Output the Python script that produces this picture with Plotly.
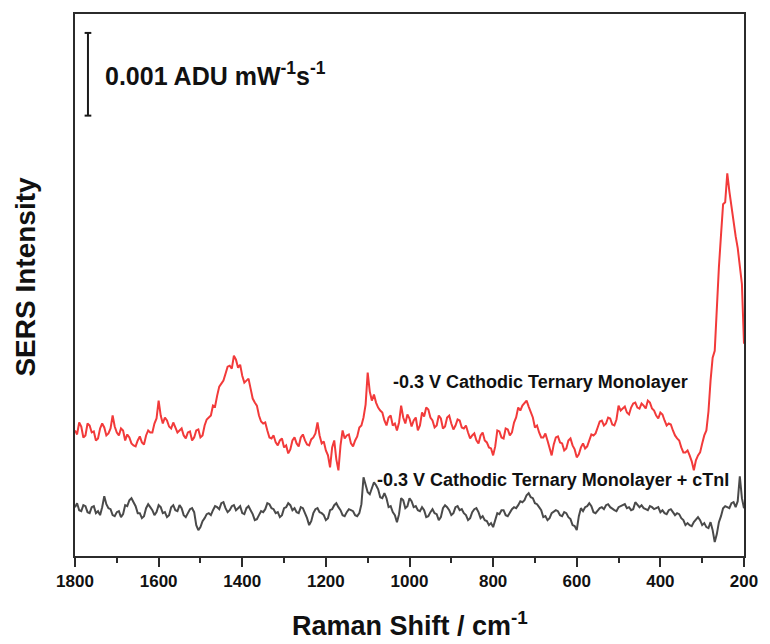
import numpy as np
import plotly.graph_objects as go

# Raman shift grid (cm^-1), 1800 -> 200 in 5 cm^-1 steps
shift = list(range(1800, 199, -5))

# SERS intensity in detector counts (83 counts = 0.001 ADU mW^-1 s^-1)
monolayer = [
    126, 122, 134, 130, 119, 121, 133, 131, 124, 125,
    116, 118, 128, 133, 129, 121, 123, 128, 141, 130,
    124, 121, 128, 126, 116, 122, 119, 113, 111, 110,
    116, 120, 114, 112, 121, 126, 124, 124, 133, 138,
    156, 141, 133, 139, 136, 130, 128, 134, 129, 124,
    126, 128, 121, 118, 124, 125, 116, 119, 126, 127,
    119, 121, 131, 137, 139, 141, 151, 150, 161, 170,
    173, 176, 183, 190, 191, 188, 201, 197, 189, 192,
    181, 174, 176, 178, 168, 158, 154, 151, 141, 135,
    133, 134, 126, 119, 118, 121, 114, 111, 116, 118,
    109, 111, 103, 107, 116, 119, 113, 110, 119, 122,
    116, 112, 111, 117, 119, 123, 134, 121, 113, 115,
    106, 101, 89, 109, 116, 97, 86, 111, 126, 118,
    121, 122, 113, 110, 116, 120, 129, 131, 139, 152,
    184, 165, 156, 162, 154, 149, 146, 144, 136, 131,
    139, 141, 131, 133, 126, 134, 151, 139, 133, 142,
    138, 130, 136, 139, 126, 131, 144, 140, 149, 147,
    139, 136, 129, 131, 141, 138, 128, 130, 139, 141,
    133, 127, 131, 137, 136, 129, 128, 131, 124, 118,
    121, 123, 116, 113, 121, 124, 116, 114, 109, 108,
    101, 110, 126, 125, 119, 118, 128, 127, 121, 124,
    134, 139, 149, 146, 151, 153, 156, 150, 144, 139,
    129, 131, 124, 119, 119, 123, 116, 109, 101, 112,
    119, 120, 114, 113, 106, 108, 116, 118, 111, 107,
    99, 102, 109, 113, 108, 110, 116, 122, 121, 123,
    129, 135, 136, 131, 133, 139, 138, 132, 131, 137,
    151, 146, 148, 150, 144, 142, 149, 153, 154, 149,
    148, 153, 151, 148, 156, 154, 148, 146, 141, 138,
    144, 142, 136, 131, 133, 132, 126, 121, 118, 116,
    109, 104, 104, 106, 101, 95, 86, 96, 101, 104,
    113, 121, 126, 145, 176, 199, 206, 250, 290, 322,
    353, 355, 384, 366, 350, 336, 321, 309, 288, 273,
    213,
]

monolayer_ctni = [
    49, 53, 46, 45, 51, 50, 44, 43, 49, 50,
    43, 45, 41, 49, 60, 52, 48, 47, 41, 40,
    44, 45, 39, 42, 51, 50, 56, 58, 54, 50,
    43, 43, 38, 40, 48, 52, 49, 46, 41, 44,
    51, 49, 43, 44, 39, 41, 49, 51, 46, 45,
    51, 48, 41, 39, 43, 47, 48, 44, 31, 26,
    29, 35, 38, 42, 43, 41, 46, 50, 49, 47,
    53, 54, 48, 44, 46, 50, 51, 46, 48, 50,
    43, 42, 48, 50, 46, 42, 36, 37, 41, 45,
    44, 47, 53, 52, 48, 47, 43, 44, 39, 41,
    48, 49, 53, 51, 46, 48, 44, 43, 49, 48,
    43, 38, 31, 35, 43, 47, 48, 44, 43, 41,
    36, 38, 46, 47, 51, 53, 49, 46, 41, 40,
    44, 47, 46, 45, 41, 40, 43, 52, 79, 70,
    64, 62, 69, 74, 71, 67, 59, 58, 63, 58,
    49, 50, 44, 41, 34, 42, 58, 56, 48, 50,
    58, 55, 49, 50, 46, 45, 49, 46, 39, 40,
    44, 47, 43, 42, 36, 39, 48, 51, 49, 46,
    41, 43, 49, 50, 46, 47, 43, 41, 36, 38,
    44, 47, 48, 44, 38, 40, 36, 35, 31, 33,
    29, 35, 43, 42, 46, 46, 41, 40, 44, 47,
    49, 48, 51, 55, 54, 56, 61, 63, 59, 58,
    53, 52, 49, 46, 39, 40, 36, 38, 43, 45,
    46, 45, 41, 40, 44, 43, 39, 37, 31, 30,
    26, 40, 48, 45, 49, 50, 53, 50, 44, 43,
    46, 48, 49, 47, 51, 52, 49, 47, 46, 45,
    49, 50, 51, 52, 48, 49, 46, 47, 54, 52,
    49, 51, 48, 47, 46, 50, 49, 47, 48, 49,
    44, 46, 43, 42, 46, 47, 44, 41, 43, 42,
    38, 36, 31, 33, 31, 30, 34, 37, 39, 36,
    31, 33, 29, 28, 34, 26, 14, 22, 34, 40,
    48, 50, 49, 48, 53, 54, 49, 55, 80, 58,
    48,
]

label_top = "-0.3 V Cathodic Ternary Monolayer"
label_bottom = "-0.3 V Cathodic Ternary Monolayer + cTnI"
scale_text = "0.001 ADU mW<sup>-1</sup>s<sup>-1</sup>"
scale_counts = 83          # counts equivalent to 0.001 ADU mW^-1 s^-1
scale_pos = (1769, 442)    # Raman shift and lower end of the scale bar

x_ticks = [1800, 1600, 1400, 1200, 1000, 800, 600, 400, 200]

FONT = "Liberation Sans, Arial, sans-serif"
AXIS_COLOR = "#2b2b2b"

fig = go.Figure()

fig.add_trace(go.Scatter(
    x=shift, y=monolayer, mode="lines",
    line=dict(color="#f23a3a", width=2),
    name=label_top, showlegend=False,
))
fig.add_trace(go.Scatter(
    x=shift, y=monolayer_ctni, mode="lines",
    line=dict(color="#4a4a4a", width=2),
    name=label_bottom, showlegend=False,
))

# scale bar with end caps
sx, sy = scale_pos
fig.add_shape(type="line", x0=sx, x1=sx, y0=sy, y1=sy + scale_counts,
              line=dict(color="#1a1a1a", width=2))
for yy in (sy, sy + scale_counts):
    fig.add_shape(type="line", x0=sx + 8, x1=sx - 8, y0=yy, y1=yy,
                  line=dict(color="#1a1a1a", width=2))

fig.add_annotation(x=1734, y=sy + scale_counts / 2, text=f"<b>{scale_text}</b>",
                   showarrow=False, xanchor="left", yanchor="middle",
                   font=dict(family=FONT, size=25, color="#111"))

fig.add_annotation(x=687, y=175, text=f"<b>{label_top}</b>", showarrow=False,
                   xanchor="center", yanchor="middle",
                   font=dict(family=FONT, size=18, color="#111"))
fig.add_annotation(x=656, y=76, text=f"<b>{label_bottom}</b>", showarrow=False,
                   xanchor="center", yanchor="middle",
                   font=dict(family=FONT, size=18, color="#111"))

# axis titles
fig.add_annotation(xref="paper", yref="paper", x=0.5, y=-0.125,
                   text="<b>Raman Shift / cm<sup>-1</sup></b>", showarrow=False,
                   xanchor="center", yanchor="middle",
                   font=dict(family=FONT, size=27, color="#111"))
fig.add_annotation(xref="paper", yref="paper", x=-0.074, y=0.5165,
                   text="<b>SERS Intensity</b>", showarrow=False, textangle=-90,
                   xanchor="center", yanchor="middle",
                   font=dict(family=FONT, size=28, color="#111"))

fig.update_xaxes(
    range=[1800, 200], autorange=False,
    tickmode="array", tickvals=x_ticks, ticktext=[str(t) for t in x_ticks],
    ticks="outside", ticklen=9, tickwidth=1.5, tickcolor=AXIS_COLOR,
    minor=dict(dtick=100, ticks="outside", ticklen=5, tickwidth=1.5,
               tickcolor=AXIS_COLOR, showgrid=False),
    tickfont=dict(family=FONT, size=17, color="#111", weight="bold"),
    showline=True, linecolor=AXIS_COLOR, linewidth=2, mirror=True,
    showgrid=False, zeroline=False,
)
fig.update_yaxes(
    range=[0, 544], autorange=False,
    showticklabels=False, ticks="",
    showline=True, linecolor=AXIS_COLOR, linewidth=2, mirror=True,
    showgrid=False, zeroline=False,
)

fig.update_layout(
    width=770, height=644,
    margin=dict(l=75, r=21, t=12, b=88),
    plot_bgcolor="white", paper_bgcolor="white",
)

fig.write_html("out.html")
